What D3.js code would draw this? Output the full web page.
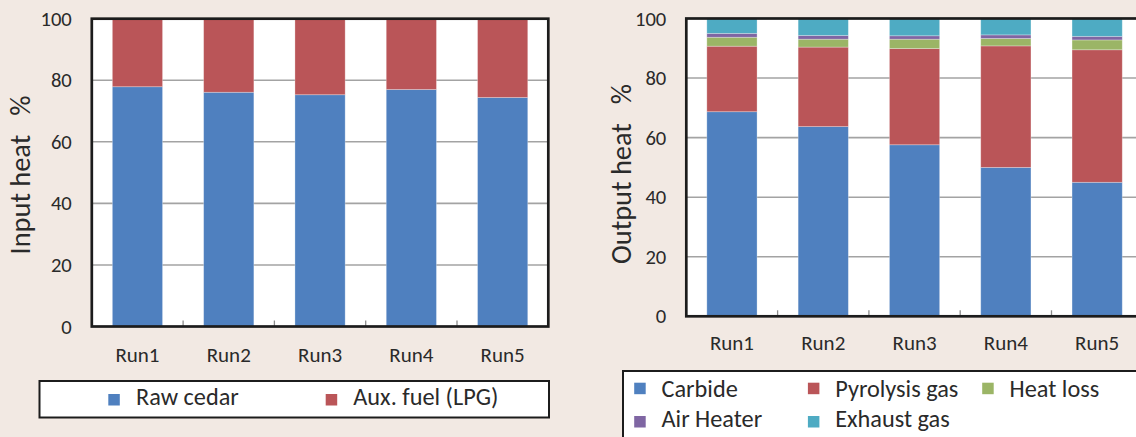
<!DOCTYPE html>
<html>
<head>
<meta charset="utf-8">
<script src="https://cdn.jsdelivr.net/npm/d3@7"></script>
<style>
  html, body { margin: 0; padding: 0; background: #F2E9E3; }
  svg { display: block; }
  text { font-family: Carlito, Lato, sans-serif; fill: #2a2a2a; }
</style>
</head>
<body>
<svg id="chart" width="1136" height="437"></svg>
<script>
// ---- Data ----
const runs = ["Run1", "Run2", "Run3", "Run4", "Run5"];
const yTicks = [0, 20, 40, 60, 80, 100];

// Input heat (%)
const inputSeries = ["Raw cedar", "Aux. fuel (LPG)"];
const rawCedar = [77.9, 76.1, 75.3, 77.0, 74.4];
const auxFuel  = [22.1, 23.9, 24.7, 23.0, 25.6];

// Output heat (%)
const outputSeries = ["Carbide", "Pyrolysis gas", "Heat loss", "Air Heater", "Exhaust gas"];
const carbide    = [68.7, 63.7, 57.6, 50.0, 45.0];
const pyrolysis  = [22.0, 26.7, 32.3, 40.8, 44.5];
const heatLoss   = [3.0, 2.65, 3.15, 2.5, 3.3];
const airHeater  = [1.3, 1.25, 1.15, 1.2, 1.2];
const exhaustGas = [5.0, 5.7, 5.8, 5.5, 6.0];

const colors = {
  "Raw cedar": "#4F80BF", "Aux. fuel (LPG)": "#BA5558",
  "Carbide": "#4F80BF", "Pyrolysis gas": "#BA5558", "Heat loss": "#9BB566",
  "Air Heater": "#7F66A3", "Exhaust gas": "#4EABC3"
};

const FONT = "Carlito, Lato, sans-serif";
const svg = d3.select("#chart");

function drawPanel(cfg) {
  const { x0, x1, y0, y1, keys, valueArrays, title, labelX, titleX, titleCY, titleGap } = cfg;
  const table = runs.map((r, i) => {
    const o = { run: r };
    keys.forEach((k, j) => o[k] = valueArrays[j][i]);
    return o;
  });
  const x = d3.scaleBand().domain(runs).range([x0, x1]).paddingInner(0.45).paddingOuter(0.225);
  const y = d3.scaleLinear().domain([0, 100]).range([y1, y0]);
  const g = svg.append("g");

  // plot background
  g.append("rect").attr("x", x0).attr("y", y0).attr("width", x1 - x0).attr("height", y1 - y0)
    .attr("fill", "#ffffff");

  // gridlines
  g.append("g").selectAll("line").data(yTicks.filter(t => t > 0 && t < 100)).join("line")
    .attr("x1", x0).attr("x2", x1).attr("y1", d => y(d)).attr("y2", d => y(d))
    .attr("stroke", "#A3A3A3").attr("stroke-width", 1.6);

  // x-axis inward tick marks at category boundaries
  const step = x.step();
  g.append("g").selectAll("line").data(runs.slice(1)).join("line")
    .attr("x1", d => x(d) - (step - x.bandwidth()) / 2)
    .attr("x2", d => x(d) - (step - x.bandwidth()) / 2)
    .attr("y1", y1).attr("y2", y1 - 6)
    .attr("stroke", "#8c8c8c").attr("stroke-width", 1.3);

  // stacked bars
  const stacked = d3.stack().keys(keys)(table);
  g.append("g").selectAll("g").data(stacked).join("g")
    .attr("fill", d => colors[d.key])
    .selectAll("rect").data(d => d).join("rect")
    .attr("x", d => x(d.data.run))
    .attr("y", d => y(d[1]))
    .attr("width", x.bandwidth())
    .attr("height", d => y(d[0]) - y(d[1]))
    .attr("stroke", "rgba(255,255,255,0.35)").attr("stroke-width", 0.8);

  // frame
  g.append("rect").attr("x", x0).attr("y", y0).attr("width", x1 - x0).attr("height", y1 - y0)
    .attr("fill", "none").attr("stroke", "#1c1c1c").attr("stroke-width", 2.7);

  // y axis labels
  const yAxis = d3.axisLeft(y).tickValues(yTicks).tickSize(0).tickPadding(20);
  const ya = g.append("g").attr("transform", `translate(${x0},0)`).call(yAxis);
  ya.select(".domain").remove();
  ya.selectAll("text").style("font-family", FONT)
    .style("font-size", "20.6px").attr("fill", "#2a2a2a");

  // x axis labels
  const xAxis = d3.axisBottom(x).tickSize(0).tickPadding(0);
  const xa = g.append("g").attr("transform", `translate(0,${labelX})`).call(xAxis);
  xa.select(".domain").remove();
  xa.selectAll("text").attr("dy", 0).style("font-family", FONT)
    .style("font-size", "21px").attr("fill", "#2a2a2a");

  // y title
  const t = g.append("text").attr("transform", `translate(${titleX},${titleCY}) rotate(-90)`)
    .attr("text-anchor", "middle").style("font-size", "28.4px");
  t.append("tspan").text(title);
  t.append("tspan").attr("dx", titleGap).text("%");
  return { x, y };
}

// Left panel
drawPanel({
  x0: 91.8, x1: 548.3, y0: 18.7, y1: 326.5,
  keys: inputSeries, valueArrays: [rawCedar, auxFuel],
  title: "Input heat", labelX: 361.7, titleX: 30, titleCY: 175, titleGap: 19
});

// Right panel
drawPanel({
  x0: 686.3, x1: 1142.8, y0: 18.5, y1: 316.3,
  keys: outputSeries, valueArrays: [carbide, pyrolysis, heatLoss, airHeater, exhaustGas],
  title: "Output heat", labelX: 350, titleX: 631, titleCY: 174, titleGap: 19
});

// Left legend
const legL = svg.append("g");
legL.append("rect").attr("x", 39.5).attr("y", 381).attr("width", 509.5).attr("height", 36.5)
  .attr("fill", "#ffffff").attr("stroke", "#1c1c1c").attr("stroke-width", 2);
const legLItems = [{ k: inputSeries[0], sx: 108.3, tx: 136 }, { k: inputSeries[1], sx: 325.7, tx: 353.3 }];
legL.selectAll("rect.sw").data(legLItems).join("rect").attr("class", "sw")
  .attr("x", d => d.sx).attr("y", 394).attr("width", 11.5).attr("height", 11.5)
  .attr("fill", d => colors[d.k]);
legL.selectAll("text").data(legLItems).join("text")
  .attr("x", d => d.tx).attr("y", 405).style("font-size", "24.3px").text(d => d.k);

// Right legend
const legR = svg.append("g");
legR.append("rect").attr("x", 623).attr("y", 371).attr("width", 540).attr("height", 90)
  .attr("fill", "#ffffff").attr("stroke", "#1c1c1c").attr("stroke-width", 2);
const cols = [{ sx: 634.2, tx: 661.5 }, { sx: 807.9, tx: 835.2 }, { sx: 982.2, tx: 1009.6 }];
const legRItems = outputSeries.map((k, i) => ({
  k, sx: cols[i % 3].sx, tx: cols[i % 3].tx,
  sy: i < 3 ? 382.7 : 416, ty: i < 3 ? 396.7 : 426.7
}));
legR.selectAll("rect.sw").data(legRItems).join("rect").attr("class", "sw")
  .attr("x", d => d.sx).attr("y", d => d.sy).attr("width", 11.5).attr("height", 11.5)
  .attr("fill", d => colors[d.k]);
legR.selectAll("text").data(legRItems).join("text")
  .attr("x", d => d.tx).attr("y", d => d.ty).style("font-size", "24.3px").text(d => d.k);
</script>
</body>
</html>
